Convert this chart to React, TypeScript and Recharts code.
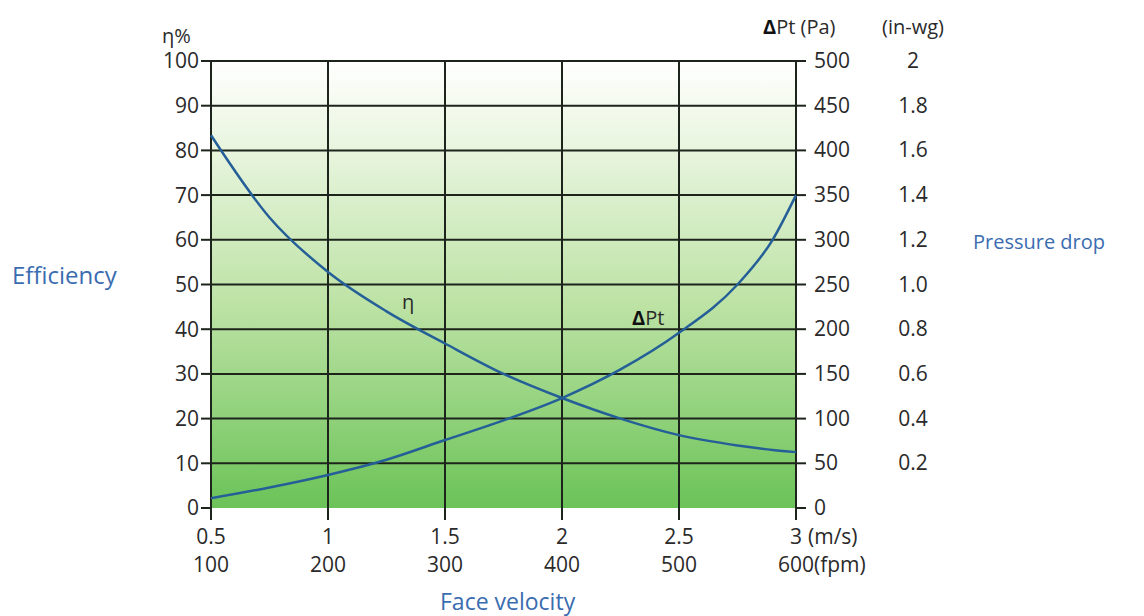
import { LineChart, Line, XAxis, YAxis, CartesianGrid } from "recharts";

// face velocity (m/s) and the two curves
const velocity = [0.5, 0.75, 1.0, 1.25, 1.5, 1.75, 2.0, 2.25, 2.5, 2.75, 2.9, 3.0];
const efficiency = [83.4, 65, 52.8, 44, 36.8, 30, 24.6, 20, 16.3, 14, 13, 12.5];
const pressureDrop = [11, 23, 37, 54, 76, 98, 123, 155, 196, 250, 300, 350];

// tick labels
const msTicks = [0.5, 1, 1.5, 2, 2.5, 3];
const msLabels = ["0.5", "1", "1.5", "2", "2.5", "3"];
const fpmLabels = ["100", "200", "300", "400", "500", "600"];
const effTicks = [0, 10, 20, 30, 40, 50, 60, 70, 80, 90, 100];
const paTicks = [0, 50, 100, 150, 200, 250, 300, 350, 400, 450, 500];
const inwgLabels = ["", "0.2", "0.4", "0.6", "0.8", "1.0", "1.2", "1.4", "1.6", "1.8", "2"];

const chartData = velocity.map((v, i) => ({
  v,
  eff: efficiency[i],
  pa: pressureDrop[i],
}));

const FONT = "'Open Sans', sans-serif";
const TEXT = "#2a2a2a";
const BLUE = "#3a6cb0";
const LINE = "#255f98";
const GRID = "#1c241c";
const FS = 21;

const VelocityTick = (props: any) => {
  const { x, y, index } = props;
  const last = index === msLabels.length - 1;
  return (
    <g>
      <text x={x} y={y + 24} textAnchor="middle" fontSize={FS} fontFamily={FONT} fill={TEXT}>
        {msLabels[index]}
      </text>
      <text x={x} y={y + 52} textAnchor="middle" fontSize={FS} fontFamily={FONT} fill={TEXT}>
        {fpmLabels[index]}
      </text>
      {last && (
        <>
          <text x={x + 12} y={y + 24} fontSize={FS} fontFamily={FONT} fill={TEXT}>(m/s)</text>
          <text x={x + 18} y={y + 52} fontSize={FS} fontFamily={FONT} fill={TEXT}>(fpm)</text>
        </>
      )}
    </g>
  );
};

// Pa label next to the tick, in-wg label in a second column further right
const PressureTick = (props: any) => {
  const { x, y, index } = props;
  return (
    <g>
      <text x={x} y={y + 7} fontSize={FS} fontFamily={FONT} fill={TEXT}>
        {paTicks[index]}
      </text>
      <text x={x + 99} y={y + 7} textAnchor="middle" fontSize={FS} fontFamily={FONT} fill={TEXT}>
        {inwgLabels[index]}
      </text>
    </g>
  );
};

const Note = ({ x, y, size = 20, color = TEXT, children }: any) => (
  <div
    style={{
      position: "absolute",
      left: x,
      top: y,
      fontSize: size,
      lineHeight: 1,
      fontFamily: FONT,
      color,
      whiteSpace: "nowrap",
    }}
  >
    {children}
  </div>
);

export default function App() {
  return (
    <div style={{ position: "absolute", left: 0, top: 0, width: 1144, height: 616, background: "#fff" }}>
      <LineChart
        width={1144}
        height={616}
        data={chartData}
        margin={{ top: 61, right: 158, bottom: 38, left: 151 }}
      >
        <defs>
          <linearGradient id="bgGrad" x1="0" y1="0" x2="0" y2="1">
            <stop offset="0" stopColor="#ffffff" />
            <stop offset="0.1" stopColor="#f4faee" />
            <stop offset="0.55" stopColor="#bce2a4" />
            <stop offset="1" stopColor="#6bc358" />
          </linearGradient>
        </defs>
        <CartesianGrid
          xAxisId="ms"
          yAxisId="eff"
          fill="url(#bgGrad)"
          fillOpacity={1}
          stroke={GRID}
          strokeWidth={2}
          horizontalValues={effTicks.slice(1)}
          verticalValues={msTicks}
        />
        <XAxis
          xAxisId="ms"
          dataKey="v"
          type="number"
          domain={[0.5, 3]}
          ticks={msTicks}
          axisLine={false}
          tickLine={{ stroke: GRID, strokeWidth: 2 }}
          tickSize={12}
          tickMargin={0}
          height={70}
          tick={<VelocityTick />}
          interval={0}
        />
        <YAxis
          yAxisId="eff"
          orientation="left"
          domain={[0, 100]}
          ticks={effTicks}
          width={60}
          axisLine={false}
          tickLine={{ stroke: GRID, strokeWidth: 2 }}
          tickSize={10}
          tickMargin={2}
          interval={0}
          tick={{ fontSize: FS, fontFamily: FONT, fill: TEXT }}
        />
        <YAxis
          yAxisId="pa"
          orientation="right"
          domain={[0, 500]}
          ticks={paTicks}
          width={190}
          axisLine={false}
          tickLine={{ stroke: GRID, strokeWidth: 2 }}
          tickSize={10}
          tickMargin={8}
          interval={0}
          tick={<PressureTick />}
        />
        <Line
          xAxisId="ms"
          yAxisId="eff"
          dataKey="eff"
          type="monotone"
          stroke={LINE}
          strokeWidth={2.5}
          dot={false}
          isAnimationActive={false}
        />
        <Line
          xAxisId="ms"
          yAxisId="pa"
          dataKey="pa"
          type="monotone"
          stroke={LINE}
          strokeWidth={2.5}
          dot={false}
          isAnimationActive={false}
        />
      </LineChart>

      <Note x={162} y={26}>η%</Note>
      <Note x={763} y={17}><b style={{ color: "#111" }}>Δ</b>Pt (Pa)</Note>
      <Note x={882} y={17}>(in-wg)</Note>
      <Note x={12} y={263} size={24} color={BLUE}>Efficiency</Note>
      <Note x={973} y={232} color={BLUE}>Pressure drop</Note>
      <Note x={440} y={590} size={23} color={BLUE}>Face velocity</Note>
      <Note x={402} y={292}>η</Note>
      <Note x={632} y={308}><b style={{ color: "#111" }}>Δ</b>Pt</Note>
    </div>
  );
}
